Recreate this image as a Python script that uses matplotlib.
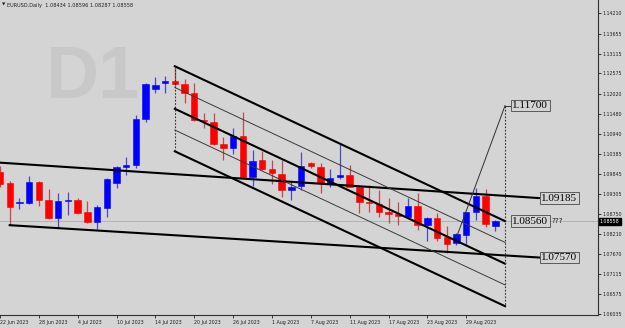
# EURUSD daily chart, MT4 look
import numpy as np
import pandas as pd
import matplotlib
matplotlib.use('Agg')
import matplotlib.pyplot as plt

# trading days shown on the chart
days = pd.bdate_range('2023-06-22', '2023-09-01')

opens = [1.0990, 1.0960, 1.0905, 1.0905, 1.0962, 1.0914, 1.0865, 1.0911, 1.0914, 1.0881,
         1.0854, 1.0892, 1.0960, 1.1003, 1.1009, 1.1134, 1.1215, 1.1232, 1.1237, 1.1229,
         1.1204, 1.1131, 1.1126, 1.1066, 1.1055, 1.1088, 1.0976, 1.1022, 1.0998, 1.0984,
         1.0941, 1.0952, 1.1014, 1.1003, 1.0957, 1.0976, 1.0981, 1.0949, 1.0908, 1.0903,
         1.0881, 1.0876, 1.0867, 1.0897, 1.0846, 1.0865, 1.0813, 1.0797, 1.0818, 1.0881,
         1.0924, 1.08434]
highs = [1.1005, 1.0965, 1.0919, 1.0979, 1.0965, 1.0943, 1.0933, 1.0935, 1.0919, 1.0911,
         1.0900, 1.0973, 1.1006, 1.1030, 1.1145, 1.1232, 1.1248, 1.1251, 1.1276, 1.1242,
         1.1232, 1.1150, 1.1150, 1.1085, 1.1109, 1.1153, 1.1049, 1.1047, 1.1022, 1.1022,
         1.0962, 1.1044, 1.1017, 1.1014, 1.0998, 1.1066, 1.1009, 1.0952, 1.0954, 1.0941,
         1.0919, 1.0908, 1.0919, 1.0933, 1.0867, 1.0878, 1.0843, 1.0824, 1.0881, 1.0946,
         1.0943, 1.08596]
lows = [1.0950, 1.0846, 1.0889, 1.0903, 1.0897, 1.0862, 1.0840, 1.0873, 1.0876, 1.0851,
        1.0835, 1.0867, 1.0946, 1.0982, 1.1000, 1.1126, 1.1204, 1.1204, 1.1223, 1.1177,
        1.1128, 1.1109, 1.1063, 1.1022, 1.1039, 1.0971, 1.0952, 1.0995, 1.0957, 1.0922,
        1.0914, 1.0941, 1.1001, 1.0933, 1.0949, 1.0971, 1.0949, 1.0878, 1.0881, 1.0867,
        1.0851, 1.0846, 1.0866, 1.0832, 1.0802, 1.0802, 1.0769, 1.0791, 1.0794, 1.0859,
        1.0840, 1.08287]
closes = [1.0957, 1.0895, 1.0908, 1.0962, 1.0914, 1.0865, 1.0911, 1.0914, 1.0878, 1.0854,
          1.0895, 1.0971, 1.1003, 1.1009, 1.1134, 1.1229, 1.1226, 1.1237, 1.1229, 1.1204,
          1.1131, 1.1128, 1.1066, 1.1055, 1.1088, 1.0976, 1.1020, 1.0998, 1.0987, 1.0941,
          1.0949, 1.1006, 1.1006, 1.0960, 1.0973, 1.0981, 1.0949, 1.0908, 1.0905, 1.0881,
          1.0876, 1.0870, 1.0897, 1.0846, 1.0865, 1.0810, 1.0794, 1.0821, 1.0881, 1.0924,
          1.0848, 1.08558]

price_ticks = [1.14210, 1.13655, 1.13115, 1.12575, 1.12020, 1.11480, 1.10940, 1.10385,
               1.09845, 1.09305, 1.08750, 1.08210, 1.07670, 1.07115, 1.06575, 1.06035]

# drawn objects (bar index, price)
upper_trend = [(0.0, 1.1015), (55.6, 1.09185)]
lower_trend = [(1.0, 1.0845), (55.6, 1.07570)]
channel_top = [(18.0, 1.1277), (52.0, 1.08560)]
channel_step = 0.00578
spike_line = [(47.0, 1.0812), (52.0, 1.11700)]

bg = '#d4d4d4'
up_col = '#0000ff'
dn_col = '#ff0000'

fig = plt.figure(figsize=(6.25, 3.28), dpi=100, facecolor=bg)
ax = fig.add_axes([0, 1 - 314.7 / 328, 598 / 625, 314.7 / 328])
ax.set_facecolor(bg)

# watermark
fig.text(45 / 625, 1 - 98 / 328, 'D1', fontsize=53, fontweight='bold',
         family='Liberation Sans', color='#c8c8c8', va='baseline', ha='left')

x = np.arange(len(days))
o = np.array(opens); h = np.array(highs); l = np.array(lows); c = np.array(closes)
bull = c >= o
col = np.where(bull, up_col, dn_col)
wick_col = np.where(bull, '#4a4ac0', '#c04a4a')

# current price line
ax.axhline(closes[-1], color='#b2b2b2', lw=0.7, zorder=1)

ax.vlines(x, l, h, colors=wick_col, lw=0.9, zorder=2)
body_lo = np.minimum(o, c)
body_h = np.maximum(np.abs(c - o), 0.0003)
ax.bar(x, body_h, bottom=body_lo, width=0.66, color=col, edgecolor=col, lw=0.4, zorder=3)

# long trend lines
ax.plot(*zip(*upper_trend), color='black', lw=1.5, zorder=4)
ax.plot(*zip(*lower_trend), color='black', lw=1.5, zorder=4)

# equidistant channel
(x0, p0), (x1, p1) = channel_top
for k in range(5):
    if k % 2 == 0:
        ax.plot([x0, x1], [p0 - k * channel_step, p1 - k * channel_step], color='black', lw=1.5, zorder=4)
    else:
        ax.plot([x0, x1], [p0 - k * channel_step, p1 - k * channel_step], color='#3a3a3a', lw=0.7, zorder=4)
ax.plot([x0, x0], [p0, p0 - 4 * channel_step], color='#303030', lw=0.8, ls=(0, (1.5, 1.5)), zorder=4)

# steep line to 1.11700
ax.plot(*zip(*spike_line), color='#303030', lw=0.7, zorder=4)
ax.plot([52.0, 52.7], [1.11700, 1.11700], color='#303030', lw=0.7, zorder=4)
ax.plot([52.0, 52.0], [1.11700, p1 - 4 * channel_step], color='#303030', lw=0.8,
        ls=(0, (1.5, 1.5)), zorder=4)

# price labels of objects
box = dict(boxstyle='square,pad=0.12', fc=bg, ec='#5a5a5a', lw=0.7)
lab_font = dict(family='Liberation Serif', fontsize=8, va='center', ha='left', color='black', zorder=6)
ax.text(52.75, 1.11700, '1.11700', bbox=box, **lab_font)
ax.text(55.75, 1.09185, '1.09185', bbox=box, **lab_font)
ax.text(55.75, 1.07570, '1.07570', bbox=box, **lab_font)
ax.text(52.75, 1.08560, '1.08560', bbox=box, **lab_font)
ax.text(56.8, 1.08560, '???', fontsize=5.2, va='center', ha='left', color='#202020')

ax.set_xlim(0.11, 61.57)
ax.set_ylim(1.06017, 1.14571)

# axes look
for s in ['left', 'top']:
    ax.spines[s].set_visible(False)
for s in ['right', 'bottom']:
    ax.spines[s].set_color('#303030')
    ax.spines[s].set_linewidth(0.8)

ax.yaxis.tick_right()
ax.set_yticks(price_ticks)
ax.set_yticklabels(['%.5f' % p for p in price_ticks])
ax.tick_params(axis='y', labelsize=3.4, length=2, width=0.6, pad=1.5, colors='#202020')

tick_idx = x[::4]
ax.set_xticks(tick_idx)
ax.set_xticklabels([days[i].strftime('%d %b %Y').lstrip('0') for i in tick_idx], ha='left')
ax.tick_params(axis='x', labelsize=3.4, length=2, width=0.6, pad=1.5, colors='#202020')

# current price tag on the scale
ax.text(1.003, closes[-1], '%.5f' % closes[-1], transform=ax.get_yaxis_transform(),
        fontsize=3.4, color='white', va='center', ha='left',
        bbox=dict(boxstyle='square,pad=0.25', fc='black', ec='black'), clip_on=False, zorder=7)

# header
fig.text(2 / 625, 1 - 5 / 328, u'\u25bc', fontsize=3.2, va='center', ha='left', color='#202020')
fig.text(7 / 625, 1 - 5 / 328, 'EURUSD,Daily  1.08434 1.08596 1.08287 1.08558',
         fontsize=3.6, va='center', ha='left', color='#202020')

fig.savefig('out.png', dpi=100, facecolor=bg)
